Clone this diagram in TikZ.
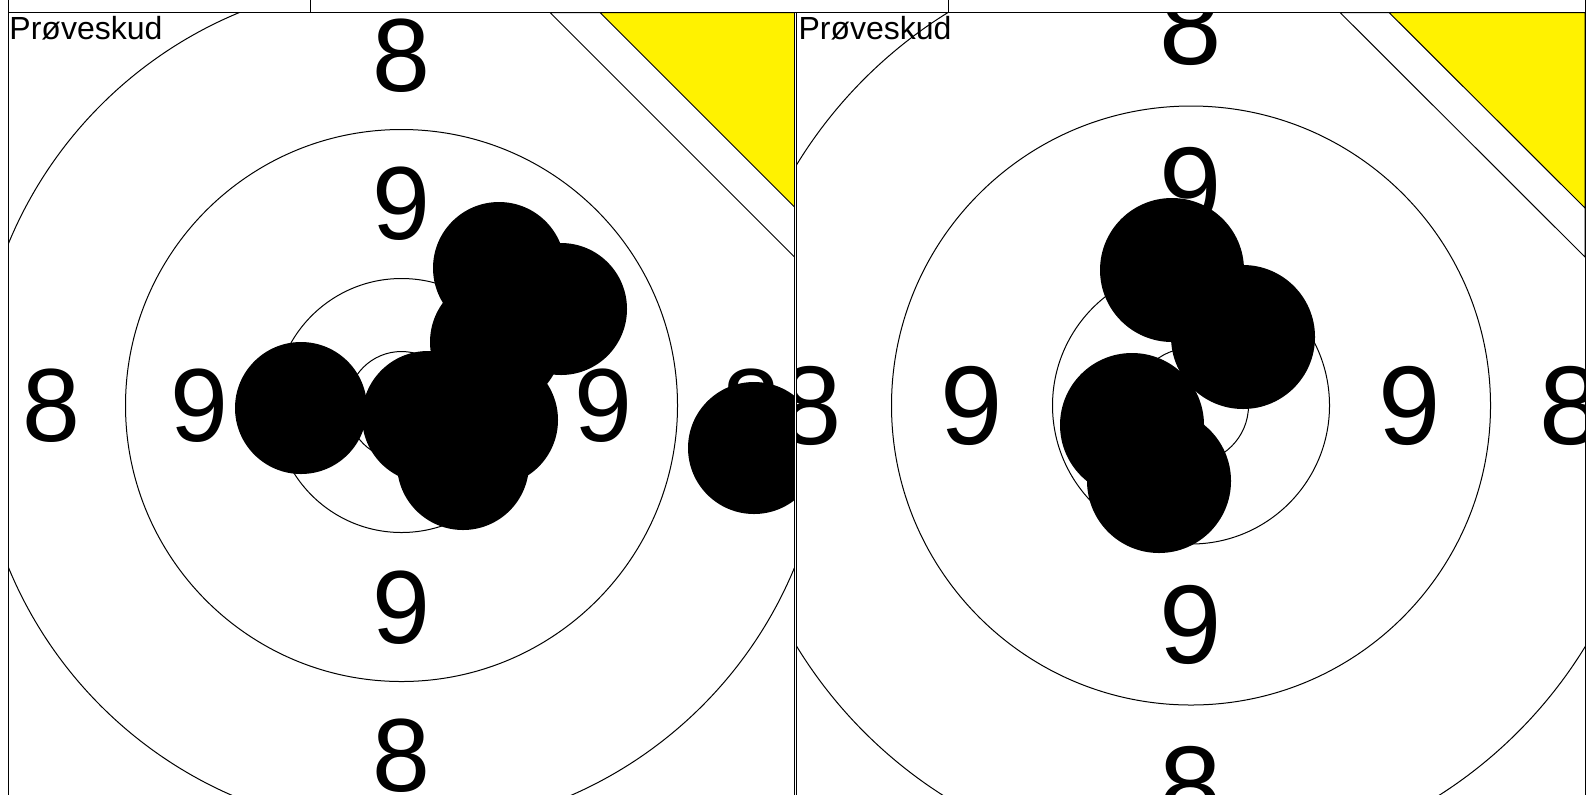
\documentclass[tikz,border=0pt]{standalone}
\usepackage{fontspec}
\setmainfont{Liberation Sans}
\usetikzlibrary{positioning}
\tikzset{
  ring/.style={draw=black, line width=0.5pt},
  shot/.style={fill=black},
  corner/.style={fill=yellow, draw=black, line width=0.5pt},
  band/.style={fill=white, draw=black, line width=0.5pt},
  ringno/.style={inner sep=0pt, font=\fontsize{52}{60}\selectfont},
  ringnobig/.style={inner sep=0pt, font=\fontsize{56}{64}\selectfont},
  heading/.style={inner sep=0pt, anchor=base west, font=\fontsize{16}{19}\selectfont},
}

\begin{document}
\begin{tikzpicture}[x=0.5pt, y=-0.5pt, line width=0.5pt]
\useasboundingbox (0,0) rectangle (1588,794);
% Header strip
\draw (8,0) -- (8,12.5) (310,0) -- (310,12.5) (948,0) -- (948,12.5) (1585,0) -- (1585,12.5);
\draw[line width=0.8pt] (8,12.5) -- (1585,12.5);

% Left target
\begin{scope}
  \clip (8,12.5) rectangle (794.5,794);
  \foreach \r in {425,276,127,54}
    \draw[ring] (401.5,405.5) circle (\r);
  \filldraw[band] (550,12.5) -- (794.5,12.5) -- (794.5,257) -- cycle;
  \filldraw[corner] (600,12.5) -- (794.5,12.5) -- (794.5,207) -- cycle;
  \node[heading] (lhead) at (9,39) {Prøveskud};
  \foreach \a/\dx/\dy in {t/0/-1, l/-1/0, r/1/0, b/0/1}{
    \node[ringno] (l8\a) at ({401.5+350*\dx},{405.5+350*\dy}) {8};
    \node[ringno] (l9\a) at ({401.5+202*\dx},{405.5+202*\dy}) {9};
  }
  % Shots
  \foreach \sx/\sy in {301/408, 499/268, 561/309, 496/342, 428/417, 492/420, 463/464, 754/448}
    \fill[shot] (\sx,\sy) circle (66);
\end{scope}
\draw (8,12.5) rectangle (794.5,810);

% Right target
\begin{scope}
  \clip (796.5,12.5) rectangle (1585,794);
  \foreach \r in {462,299.5,138.5,57.5}
    \draw[ring] (1191,405.5) circle (\r);
  \filldraw[band] (1340,12.5) -- (1585,12.5) -- (1585,257) -- cycle;
  \filldraw[corner] (1389,12.5) -- (1585,12.5) -- (1585,208) -- cycle;
  \node[heading] (rhead) at (798,39) {Prøveskud};
  \foreach \a/\dx/\dy in {t/0/-1, l/-1/0, r/1/0, b/0/1}{
    \node[ringnobig] (r8\a) at ({1191+380*\dx},{405.5+380*\dy}) {8};
    \node[ringnobig] (r9\a) at ({1191+219*\dx},{405.5+219*\dy}) {9};
  }
  % Shots
  \foreach \sx/\sy in {1172/270, 1243/337, 1132/425, 1159/481}
    \fill[shot] (\sx,\sy) circle (72);
\end{scope}
\draw (796.5,12.5) rectangle (1585,810);
\end{tikzpicture}
\end{document}
